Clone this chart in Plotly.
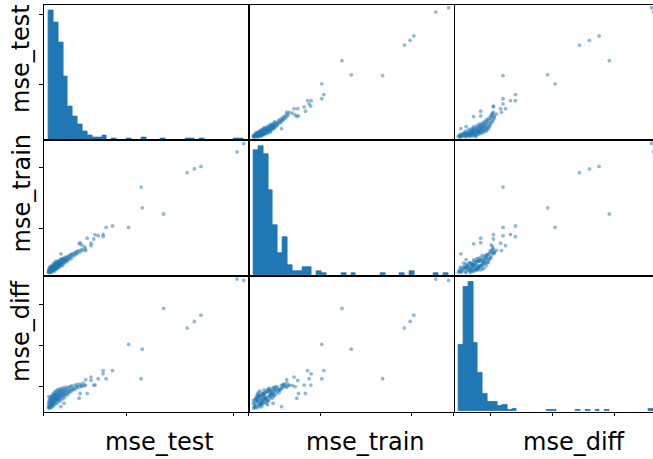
import numpy as np
import plotly.graph_objects as go

columns = ["mse_test", "mse_train", "mse_diff"]

mse_test = [
    # main cluster
    0.130, 0.131, 0.132, 0.133, 0.134, 0.135, 0.136, 0.137, 0.138, 0.139,
    0.140, 0.141, 0.142, 0.143, 0.144, 0.145, 0.146, 0.147, 0.148, 0.149,
    0.150, 0.151, 0.151, 0.152, 0.153, 0.136, 0.141, 0.146, 0.150, 0.132,
    0.154, 0.155, 0.156, 0.157, 0.158, 0.159, 0.160, 0.161, 0.162, 0.163,
    0.164, 0.165, 0.166, 0.167, 0.168, 0.169, 0.170, 0.171, 0.172, 0.173,
    0.174, 0.175, 0.155, 0.160, 0.165, 0.170,
    0.177, 0.178, 0.178, 0.179, 0.180, 0.181, 0.182, 0.183, 0.184, 0.186,
    0.187, 0.188, 0.189, 0.191, 0.192, 0.193, 0.194, 0.196, 0.197, 0.198,
    0.200, 0.201, 0.203, 0.204, 0.206, 0.207, 0.209, 0.211, 0.213, 0.215,
    0.217, 0.219, 0.221,
    0.224, 0.226, 0.229, 0.232, 0.235, 0.237, 0.240, 0.243,
    0.248, 0.252, 0.256, 0.260, 0.264, 0.267,
    0.273, 0.279, 0.286, 0.293, 0.305,
    # sparse fringe
    0.365, 0.350, 0.344, 0.313, 0.331, 0.331, 0.275, 0.280, 0.306, 0.189,
    0.287, 0.299, 0.204,
    # high-error runs
    1.050, 1.019, 0.849, 0.818, 0.784, 0.673, 0.572, 0.567, 0.508, 0.432,
    0.402, 0.388, 0.388,
]

mse_train = [
    0.139, 0.135, 0.153, 0.144, 0.164, 0.137, 0.158, 0.148, 0.173, 0.142,
    0.155, 0.177, 0.146, 0.166, 0.153, 0.182, 0.159, 0.142, 0.171, 0.186,
    0.150, 0.175, 0.162, 0.191, 0.157, 0.180, 0.135, 0.195, 0.166, 0.159,
    0.171, 0.197, 0.155, 0.182, 0.164, 0.204, 0.175, 0.191, 0.162, 0.211,
    0.184, 0.171, 0.200, 0.180, 0.218, 0.189, 0.173, 0.206, 0.193, 0.224,
    0.182, 0.202, 0.213, 0.148, 0.229, 0.164,
    0.195, 0.215, 0.184, 0.231, 0.202, 0.177, 0.220, 0.209, 0.240, 0.191,
    0.213, 0.229, 0.197, 0.247, 0.218, 0.204, 0.236, 0.193, 0.224, 0.251,
    0.231, 0.209, 0.249, 0.240, 0.218, 0.260, 0.233, 0.247, 0.224, 0.265,
    0.242, 0.256, 0.231,
    0.267, 0.244, 0.276, 0.258, 0.282, 0.251, 0.287, 0.271,
    0.294, 0.276, 0.300, 0.287, 0.309, 0.296,
    0.316, 0.305, 0.325, 0.318, 0.332,
    0.439, 0.448, 0.412, 0.419, 0.357, 0.377, 0.372, 0.381, 0.317, 0.289,
    0.363, 0.348, 0.242,
    1.200, 1.130, 1.010, 0.990, 0.959, 0.618, 0.669, 0.840, 0.508, 0.519,
    0.508, 0.450, 0.431,
]

mse_diff = [
    0.102, 0.119, 0.098, 0.132, 0.109, 0.095, 0.125, 0.145, 0.115, 0.106,
    0.139, 0.122, 0.099, 0.152, 0.129, 0.112, 0.135, 0.119, 0.158, 0.142,
    0.109, 0.132, 0.149, 0.122, 0.165, 0.102, 0.135, 0.125, 0.102, 0.152,
    0.119, 0.139, 0.155, 0.129, 0.172, 0.145, 0.115, 0.162, 0.135, 0.152,
    0.125, 0.178, 0.142, 0.158, 0.132, 0.168, 0.145, 0.119, 0.185, 0.155,
    0.139, 0.172, 0.112, 0.142, 0.162, 0.158,
    0.149, 0.135, 0.165, 0.178, 0.142, 0.158, 0.188, 0.129, 0.168, 0.152,
    0.182, 0.145, 0.172, 0.158, 0.192, 0.139, 0.175, 0.165, 0.152, 0.185,
    0.162, 0.178, 0.195, 0.145, 0.172, 0.165, 0.188, 0.155, 0.178, 0.198,
    0.168, 0.185, 0.162,
    0.178, 0.195, 0.172, 0.201, 0.185, 0.178, 0.205, 0.188,
    0.195, 0.185, 0.208, 0.192, 0.201, 0.211,
    0.198, 0.211, 0.205, 0.218, 0.208,
    0.239, 0.208, 0.208, 0.167, 0.247, 0.231, 0.144, 0.167, 0.234, 0.103,
    0.201, 0.205, 0.120,
    0.718, 0.725, 0.549, 0.518, 0.486, 0.582, 0.383, 0.239, 0.407, 0.279,
    0.239, 0.263, 0.279,
]

# 40-bin histogram counts shown on the diagonal
hist_test = [129, 117, 97, 63, 33, 23, 15, 8, 4, 2, 2, 4, 0, 1, 0, 0, 1, 0, 0, 2,
             0, 0, 0, 1, 0, 0, 0, 0, 1, 1, 0, 1, 0, 0, 0, 0, 0, 0, 1, 1]
hist_train = [63, 65, 61, 43, 25, 11, 19, 5, 2, 2, 4, 4, 0, 2, 1, 0, 0, 0, 1, 0,
              1, 0, 0, 0, 0, 0, 1, 0, 0, 0, 1, 0, 2, 0, 0, 0, 0, 1, 0, 1]
hist_diff = [66, 124, 129, 68, 38, 17, 9, 9, 5, 6, 1, 2, 0, 0, 0, 0, 0, 0, 1, 1,
             0, 0, 0, 0, 1, 0, 1, 0, 1, 0, 1, 0, 0, 0, 0, 0, 0, 0, 0, 2]

tick_values = {
    "mse_test": [0.5, 1.0],
    "mse_train": [0.5, 1.0],
    "mse_diff": [0.2, 0.4, 0.6],
}

data = {"mse_test": mse_test, "mse_train": mse_train, "mse_diff": mse_diff}
hists = {"mse_test": hist_test, "mse_train": hist_train, "mse_diff": hist_diff}

# Figure geometry (pixels)
W, H = 653, 459
X0, CW = 43.5, 205.0
Y0, CH = 4.5, 135.67
BLUE = "#1f77b4"
FONT = "DejaVu Sans"
LABEL_SIZE = 24

# Axis limits padded by 2.5% of the data range on each side
limits = {}
for c in columns:
    v = np.asarray(data[c])
    rng = v.max() - v.min()
    limits[c] = (v.min() - rng * 0.025, v.max() + rng * 0.025)

fig = go.Figure()
n = len(columns)
layout = {}
for i, a in enumerate(columns):
    for j, b in enumerate(columns):
        k = i * n + j + 1
        xname = "x" if k == 1 else f"x{k}"
        yname = "y" if k == 1 else f"y{k}"
        left_px = X0 + j * CW
        right_px = X0 + (j + 1) * CW
        xdom = [left_px / W, min(1.0, right_px / W)]
        ydom = [1 - (Y0 + (i + 1) * CH) / H, 1 - (Y0 + i * CH) / H]
        lo, hi = limits[b]
        visible = (min(W, right_px) - left_px) / CW
        xrange = [lo, lo + (hi - lo) * visible]

        if i == j:
            counts = np.asarray(hists[a])
            edges = np.linspace(min(data[a]), max(data[a]), len(counts) + 1)
            centers = (edges[:-1] + edges[1:]) / 2
            filled = counts > 0  # empty bins draw nothing
            fig.add_trace(go.Bar(
                x=centers[filled], y=counts[filled], width=edges[1] - edges[0],
                marker=dict(color=BLUE, line=dict(width=0.8, color=BLUE)),
                xaxis=xname, yaxis=yname, hoverinfo="skip",
            ))
            ytop = counts.max() * 1.05
            # lift the baseline slightly so one-count bars clear the frame
            yrange = [-ytop * 0.8 / CH, ytop]
            ylo, yhi = limits[a]
            ytick = [(t - ylo) / (yhi - ylo) * ytop for t in tick_values[a]]
        else:
            fig.add_trace(go.Scatter(
                x=data[b], y=data[a], mode="markers",
                marker=dict(size=3.8, color="rgba(31,119,180,0.5)",
                            line=dict(width=0)),
                xaxis=xname, yaxis=yname, hoverinfo="skip",
            ))
            yrange = list(limits[a])
            ytick = tick_values[a]

        xax = dict(
            domain=xdom, range=xrange, anchor=yname,
            showline=True, mirror=True, linecolor="black", linewidth=1,
            showgrid=False, zeroline=False, showticklabels=False,
            ticks="", fixedrange=True,
        )
        if i == n - 1:
            xax.update(ticks="outside", tickvals=[lo] + tick_values[b],
                       ticklen=3.5, tickwidth=1, tickcolor="black")
        yax = dict(
            domain=ydom, range=yrange, anchor=xname,
            showline=(j != n - 1), mirror=True, linecolor="black", linewidth=1,
            showgrid=False, zeroline=False, showticklabels=False,
            ticks="", fixedrange=True,
        )
        if j == 0:
            yax.update(ticks="outside", tickvals=ytick,
                       ticklen=3.5, tickwidth=1, tickcolor="black")
        layout["xaxis" if k == 1 else f"xaxis{k}"] = xax
        layout["yaxis" if k == 1 else f"yaxis{k}"] = yax

# Column labels under the bottom row and row labels left of the first column
x_label_px = [159.2, 365.0, 574.0]
y_label_px = [59.0, 193.5, 331.0]
annotations = []
for c, xp in zip(columns, x_label_px):
    annotations.append(dict(
        text=c, x=xp / W, y=1 - 441.5 / H, xref="paper", yref="paper",
        xanchor="center", yanchor="middle", showarrow=False,
        font=dict(family=FONT, size=LABEL_SIZE, color="black"),
    ))
for c, yp in zip(columns, y_label_px):
    annotations.append(dict(
        text=c, x=21.0 / W, y=1 - yp / H, xref="paper", yref="paper",
        xanchor="center", yanchor="middle", showarrow=False, textangle=-90,
        font=dict(family=FONT, size=LABEL_SIZE, color="black"),
    ))

fig.update_layout(
    **layout,
    width=W, height=H,
    margin=dict(l=0, r=0, t=0, b=0),
    paper_bgcolor="white", plot_bgcolor="white",
    showlegend=False, bargap=0,
    annotations=annotations,
    font=dict(family=FONT),
)

fig.write_html("out.html", config={"displayModeBar": False})
